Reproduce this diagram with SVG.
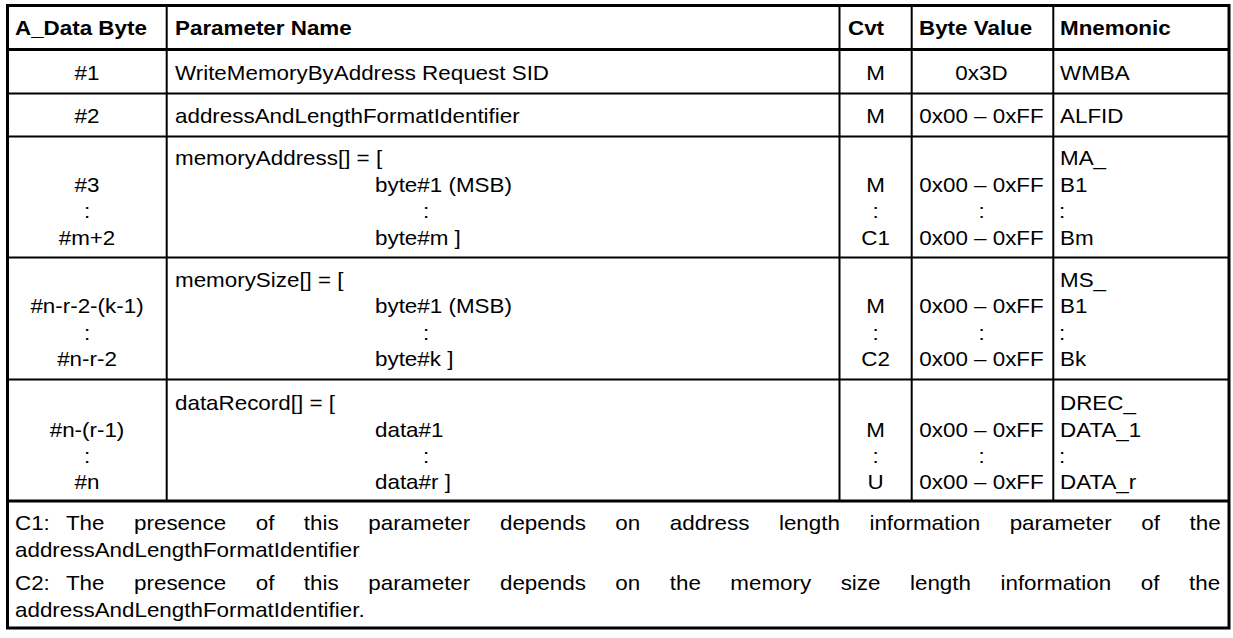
<svg xmlns="http://www.w3.org/2000/svg" width="1233" height="638" viewBox="0 0 1233 638">
<style>
.t{font-family:"Liberation Sans",Arial,sans-serif;font-size:20px;fill:#000}
.b{font-weight:bold}
.c{text-anchor:middle}
.thin{stroke:#000;stroke-width:1.8;fill:none}
.col{stroke:#000;stroke-width:2;fill:none}
.thick{stroke:#000;stroke-width:3;fill:none}
</style>
<rect x="0" y="0" width="1233" height="638" fill="#fff"/>
<g id="grid">
<line class="col" x1="166.7" y1="5.5" x2="166.7" y2="501"/>
<line class="col" x1="839.5" y1="5.5" x2="839.5" y2="501"/>
<line class="col" x1="911.7" y1="5.5" x2="911.7" y2="501"/>
<line class="col" x1="1053.3" y1="5.5" x2="1053.3" y2="501"/>
<line class="thin" x1="7.5" y1="93.5" x2="1229" y2="93.5"/>
<line class="thin" x1="7.5" y1="136.5" x2="1229" y2="136.5"/>
<line class="thin" x1="7.5" y1="257.5" x2="1229" y2="257.5"/>
<line class="thin" x1="7.5" y1="379.5" x2="1229" y2="379.5"/>
<line class="thick" x1="7.5" y1="49.5" x2="1229" y2="49.5"/>
<line class="thick" x1="7.5" y1="501" x2="1229" y2="501"/>
<rect class="thick" x="7.5" y="5.5" width="1221.5" height="622.5"/>
</g>
<g id="header">
<text class="t b" transform="translate(15 35) scale(1.12 1)">A_Data Byte</text>
<text class="t b" transform="translate(175 35) scale(1.12 1)">Parameter Name</text>
<text class="t b" transform="translate(848 35) scale(1.12 1)">Cvt</text>
<text class="t b" transform="translate(919 35) scale(1.12 1)">Byte Value</text>
<text class="t b" transform="translate(1060 35) scale(1.12 1)">Mnemonic</text>
</g>
<g id="row1">
<text class="t c" transform="translate(87 80) scale(1.12 1)">#1</text>
<text class="t" transform="translate(175 80) scale(1.12 1)">WriteMemoryByAddress Request SID</text>
<text class="t c" transform="translate(875.6 80) scale(1.12 1)">M</text>
<text class="t c" transform="translate(981.5 80) scale(1.12 1)">0x3D</text>
<text class="t" transform="translate(1060 80) scale(1.12 1)">WMBA</text>
</g>
<g id="row2">
<text class="t c" transform="translate(87 123) scale(1.12 1)">#2</text>
<text class="t" transform="translate(175 123) scale(1.12 1)">addressAndLengthFormatIdentifier</text>
<text class="t c" transform="translate(875.6 123) scale(1.12 1)">M</text>
<text class="t c" transform="translate(981.5 123) scale(1.12 1)">0x00 – 0xFF</text>
<text class="t" transform="translate(1060 123) scale(1.12 1)">ALFID</text>
</g>
<g id="row3">
<text class="t" transform="translate(175 165) scale(1.12 1)">memoryAddress[] = [</text>
<text class="t" transform="translate(1060 165) scale(1.12 1)">MA_</text>
<text class="t c" transform="translate(87 191.5) scale(1.12 1)">#3</text>
<text class="t" transform="translate(375 191.5) scale(1.12 1)">byte#1 (MSB)</text>
<text class="t c" transform="translate(875.6 191.5) scale(1.12 1)">M</text>
<text class="t c" transform="translate(981.5 191.5) scale(1.12 1)">0x00 – 0xFF</text>
<text class="t" transform="translate(1060 191.5) scale(1.12 1)">B1</text>
<text class="t c" transform="translate(87 218) scale(1.12 1)">:</text>
<text class="t" transform="translate(423 218) scale(1.12 1)">:</text>
<text class="t c" transform="translate(875.6 218) scale(1.12 1)">:</text>
<text class="t c" transform="translate(981.5 218) scale(1.12 1)">:</text>
<text class="t" transform="translate(1059 218) scale(1.12 1)">:</text>
<text class="t c" transform="translate(87 244.5) scale(1.12 1)">#m+2</text>
<text class="t" transform="translate(375 244.5) scale(1.12 1)">byte#m ]</text>
<text class="t c" transform="translate(875.6 244.5) scale(1.12 1)">C1</text>
<text class="t c" transform="translate(981.5 244.5) scale(1.12 1)">0x00 – 0xFF</text>
<text class="t" transform="translate(1060 244.5) scale(1.12 1)">Bm</text>
</g>
<g id="row4">
<text class="t" transform="translate(175 286.5) scale(1.12 1)">memorySize[] = [</text>
<text class="t" transform="translate(1060 286.5) scale(1.12 1)">MS_</text>
<text class="t c" transform="translate(87 313) scale(1.12 1)">#n-r-2-(k-1)</text>
<text class="t" transform="translate(375 313) scale(1.12 1)">byte#1 (MSB)</text>
<text class="t c" transform="translate(875.6 313) scale(1.12 1)">M</text>
<text class="t c" transform="translate(981.5 313) scale(1.12 1)">0x00 – 0xFF</text>
<text class="t" transform="translate(1060 313) scale(1.12 1)">B1</text>
<text class="t c" transform="translate(87 339.5) scale(1.12 1)">:</text>
<text class="t" transform="translate(423 339.5) scale(1.12 1)">:</text>
<text class="t c" transform="translate(875.6 339.5) scale(1.12 1)">:</text>
<text class="t c" transform="translate(981.5 339.5) scale(1.12 1)">:</text>
<text class="t" transform="translate(1059 339.5) scale(1.12 1)">:</text>
<text class="t c" transform="translate(87 366) scale(1.12 1)">#n-r-2</text>
<text class="t" transform="translate(375 366) scale(1.12 1)">byte#k ]</text>
<text class="t c" transform="translate(875.6 366) scale(1.12 1)">C2</text>
<text class="t c" transform="translate(981.5 366) scale(1.12 1)">0x00 – 0xFF</text>
<text class="t" transform="translate(1060 366) scale(1.12 1)">Bk</text>
</g>
<g id="row5">
<text class="t" transform="translate(175 409.5) scale(1.12 1)">dataRecord[] = [</text>
<text class="t" transform="translate(1060 409.5) scale(1.12 1)">DREC_</text>
<text class="t c" transform="translate(87 436.5) scale(1.12 1)">#n-(r-1)</text>
<text class="t" transform="translate(375 436.5) scale(1.12 1)">data#1</text>
<text class="t c" transform="translate(875.6 436.5) scale(1.12 1)">M</text>
<text class="t c" transform="translate(981.5 436.5) scale(1.12 1)">0x00 – 0xFF</text>
<text class="t" transform="translate(1060 436.5) scale(1.12 1)">DATA_1</text>
<text class="t c" transform="translate(87 462.5) scale(1.12 1)">:</text>
<text class="t" transform="translate(423 462.5) scale(1.12 1)">:</text>
<text class="t c" transform="translate(875.6 462.5) scale(1.12 1)">:</text>
<text class="t c" transform="translate(981.5 462.5) scale(1.12 1)">:</text>
<text class="t" transform="translate(1059 462.5) scale(1.12 1)">:</text>
<text class="t c" transform="translate(87 488.5) scale(1.12 1)">#n</text>
<text class="t" transform="translate(375 488.5) scale(1.12 1)">data#r ]</text>
<text class="t c" transform="translate(875.6 488.5) scale(1.12 1)">U</text>
<text class="t c" transform="translate(981.5 488.5) scale(1.12 1)">0x00 – 0xFF</text>
<text class="t" transform="translate(1060 488.5) scale(1.12 1)">DATA_r</text>
</g>
<g id="notes">
<text class="t" transform="translate(15 530) scale(1.12 1)"><tspan x="0">C1:</tspan><tspan x="45.5">The</tspan><tspan x="106.3">presence</tspan><tspan x="214.9">of</tspan><tspan x="257.9">this</tspan><tspan x="315.4">parameter</tspan><tspan x="433">depends</tspan><tspan x="536">on</tspan><tspan x="584.6">address</tspan><tspan x="682.1">length</tspan><tspan x="762.9">information</tspan><tspan x="888.1">parameter</tspan><tspan x="1005.6">of</tspan><tspan x="1048.7">the</tspan></text>
<text class="t" transform="translate(15 557) scale(1.12 1)">addressAndLengthFormatIdentifier</text>
<text class="t" transform="translate(15 590) scale(1.12 1)"><tspan x="0">C2:</tspan><tspan x="45.5">The</tspan><tspan x="106.3">presence</tspan><tspan x="214.9">of</tspan><tspan x="257.9">this</tspan><tspan x="315.4">parameter</tspan><tspan x="433">depends</tspan><tspan x="536">on</tspan><tspan x="584.6">the</tspan><tspan x="638.7">memory</tspan><tspan x="737.2">size</tspan><tspan x="799.1">length</tspan><tspan x="879.9">information</tspan><tspan x="1005.2">of</tspan><tspan x="1048.2">the</tspan></text>
<text class="t" transform="translate(15 617) scale(1.12 1)">addressAndLengthFormatIdentifier.</text>
</g>
</svg>
